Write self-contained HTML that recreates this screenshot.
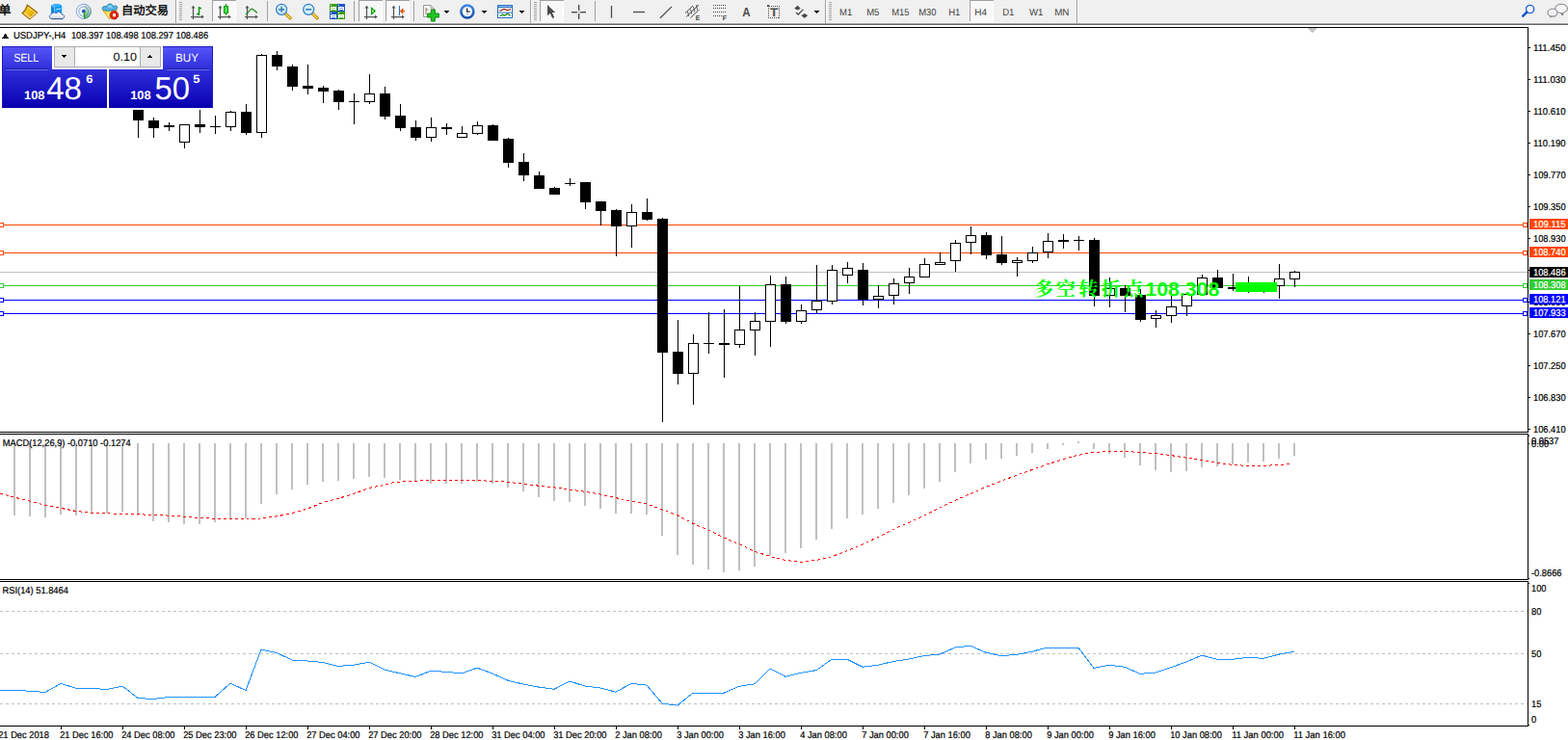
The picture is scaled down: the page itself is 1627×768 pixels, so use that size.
<!DOCTYPE html>
<html><head><meta charset="utf-8"><title>USDJPY H4</title>
<style>html,body{margin:0;padding:0;background:#fff;overflow:hidden}svg{display:block}text{font-family:"Liberation Sans",sans-serif;white-space:pre}</style>
</head><body>
<svg width="1627" height="768" viewBox="0 0 1627 768" font-family="Liberation Sans, sans-serif" shape-rendering="crispEdges" text-rendering="geometricPrecision"><rect x="0" y="0" width="1627" height="768" fill="#fff"/>
<rect x="0" y="28" width="1586" height="1" fill="#000"/>
<rect x="1585" y="28" width="1" height="726" fill="#000"/>
<rect x="0" y="448" width="1586" height="1" fill="#000"/>
<rect x="0" y="450" width="1586" height="1" fill="#000"/>
<rect x="0" y="601" width="1586" height="1" fill="#000"/>
<rect x="0" y="603" width="1586" height="1" fill="#000"/>
<rect x="0" y="753" width="1586" height="1" fill="#000"/>
<rect x="1585" y="449" width="1" height="1" fill="#fff"/>
<rect x="1585" y="602" width="1" height="1" fill="#fff"/>
<path d="M1356.6 29H1367L1361.8 34.3Z" fill="#c0c0c0" shape-rendering="auto"/>
<rect x="1586" y="49" width="2" height="1" fill="#000"/>
<text x="1591" y="53" font-size="10" fill="#000" textLength="33.62" lengthAdjust="spacingAndGlyphs" stroke="#000" stroke-width="0.22">111.450</text>
<rect x="1586" y="82" width="2" height="1" fill="#000"/>
<text x="1591" y="86" font-size="10" fill="#000" textLength="33.62" lengthAdjust="spacingAndGlyphs" stroke="#000" stroke-width="0.22">111.030</text>
<rect x="1586" y="115" width="2" height="1" fill="#000"/>
<text x="1591" y="119" font-size="10" fill="#000" textLength="33.62" lengthAdjust="spacingAndGlyphs" stroke="#000" stroke-width="0.22">110.610</text>
<rect x="1586" y="148" width="2" height="1" fill="#000"/>
<text x="1591" y="152" font-size="10" fill="#000" textLength="33.62" lengthAdjust="spacingAndGlyphs" stroke="#000" stroke-width="0.22">110.190</text>
<rect x="1586" y="181" width="2" height="1" fill="#000"/>
<text x="1591" y="185" font-size="10" fill="#000" textLength="33.62" lengthAdjust="spacingAndGlyphs" stroke="#000" stroke-width="0.22">109.770</text>
<rect x="1586" y="214" width="2" height="1" fill="#000"/>
<text x="1591" y="218" font-size="10" fill="#000" textLength="33.62" lengthAdjust="spacingAndGlyphs" stroke="#000" stroke-width="0.22">109.350</text>
<rect x="1586" y="247" width="2" height="1" fill="#000"/>
<text x="1591" y="251" font-size="10" fill="#000" textLength="33.62" lengthAdjust="spacingAndGlyphs" stroke="#000" stroke-width="0.22">108.930</text>
<rect x="1586" y="280" width="2" height="1" fill="#000"/>
<text x="1591" y="284" font-size="10" fill="#000" textLength="33.62" lengthAdjust="spacingAndGlyphs" stroke="#000" stroke-width="0.22">108.510</text>
<rect x="1586" y="313" width="2" height="1" fill="#000"/>
<text x="1591" y="317" font-size="10" fill="#000" textLength="33.62" lengthAdjust="spacingAndGlyphs" stroke="#000" stroke-width="0.22">108.090</text>
<rect x="1586" y="346" width="2" height="1" fill="#000"/>
<text x="1591" y="350" font-size="10" fill="#000" textLength="33.62" lengthAdjust="spacingAndGlyphs" stroke="#000" stroke-width="0.22">107.670</text>
<rect x="1586" y="379" width="2" height="1" fill="#000"/>
<text x="1591" y="383" font-size="10" fill="#000" textLength="33.62" lengthAdjust="spacingAndGlyphs" stroke="#000" stroke-width="0.22">107.250</text>
<rect x="1586" y="412" width="2" height="1" fill="#000"/>
<text x="1591" y="416" font-size="10" fill="#000" textLength="33.62" lengthAdjust="spacingAndGlyphs" stroke="#000" stroke-width="0.22">106.830</text>
<rect x="1586" y="445" width="2" height="1" fill="#000"/>
<text x="1591" y="449" font-size="10" fill="#000" textLength="33.62" lengthAdjust="spacingAndGlyphs" stroke="#000" stroke-width="0.22">106.410</text>
<rect x="0" y="282" width="1585" height="1" fill="#c0c0c0"/>
<rect x="0" y="233" width="1585" height="1" fill="#ff4500"/>
<rect x="-1" y="231" width="5" height="5" fill="#ff4500"/>
<rect x="0" y="232" width="3" height="3" fill="#fff"/>
<rect x="1580" y="231" width="5" height="5" fill="#ff4500"/>
<rect x="1581" y="232" width="3" height="3" fill="#fff"/>
<rect x="0" y="262" width="1585" height="1" fill="#ff4500"/>
<rect x="-1" y="260" width="5" height="5" fill="#ff4500"/>
<rect x="0" y="261" width="3" height="3" fill="#fff"/>
<rect x="1580" y="260" width="5" height="5" fill="#ff4500"/>
<rect x="1581" y="261" width="3" height="3" fill="#fff"/>
<rect x="0" y="296" width="1585" height="1" fill="#32cd32"/>
<rect x="-1" y="294" width="5" height="5" fill="#32cd32"/>
<rect x="0" y="295" width="3" height="3" fill="#fff"/>
<rect x="1580" y="294" width="5" height="5" fill="#32cd32"/>
<rect x="1581" y="295" width="3" height="3" fill="#fff"/>
<rect x="0" y="311" width="1585" height="1" fill="#0000ff"/>
<rect x="-1" y="309" width="5" height="5" fill="#0000ff"/>
<rect x="0" y="310" width="3" height="3" fill="#fff"/>
<rect x="1580" y="309" width="5" height="5" fill="#0000ff"/>
<rect x="1581" y="310" width="3" height="3" fill="#fff"/>
<rect x="0" y="325" width="1585" height="1" fill="#0000ff"/>
<rect x="-1" y="323" width="5" height="5" fill="#0000ff"/>
<rect x="0" y="324" width="3" height="3" fill="#fff"/>
<rect x="1580" y="323" width="5" height="5" fill="#0000ff"/>
<rect x="1581" y="324" width="3" height="3" fill="#fff"/>
<rect x="1587" y="277" width="40" height="11" fill="#000"/>
<text x="1591" y="286" font-size="10" fill="#fff" textLength="33.62" lengthAdjust="spacingAndGlyphs" stroke="#fff" stroke-width="0.22">108.486</text>
<rect x="1587" y="227" width="40" height="11" fill="#ff4500"/>
<text x="1591" y="236" font-size="10" fill="#fff" textLength="33.62" lengthAdjust="spacingAndGlyphs" stroke="#fff" stroke-width="0.22">109.115</text>
<rect x="1587" y="256" width="40" height="11" fill="#ff4500"/>
<text x="1591" y="265" font-size="10" fill="#fff" textLength="33.62" lengthAdjust="spacingAndGlyphs" stroke="#fff" stroke-width="0.22">108.740</text>
<rect x="1587" y="290" width="40" height="11" fill="#32cd32"/>
<text x="1591" y="299" font-size="10" fill="#fff" textLength="33.62" lengthAdjust="spacingAndGlyphs" stroke="#fff" stroke-width="0.22">108.308</text>
<rect x="1587" y="305" width="40" height="11" fill="#0000ff"/>
<text x="1591" y="314" font-size="10" fill="#fff" textLength="33.62" lengthAdjust="spacingAndGlyphs" stroke="#fff" stroke-width="0.22">108.121</text>
<rect x="1587" y="319" width="40" height="11" fill="#0000ff"/>
<text x="1591" y="328" font-size="10" fill="#fff" textLength="33.62" lengthAdjust="spacingAndGlyphs" stroke="#fff" stroke-width="0.22">107.933</text>
<rect x="143" y="114" width="1" height="29" fill="#000"/>
<rect x="138" y="114" width="11" height="11" fill="#000"/>
<rect x="159" y="122" width="1" height="21" fill="#000"/>
<rect x="154" y="125" width="11" height="8" fill="#000"/>
<rect x="175" y="127" width="1" height="9" fill="#000"/>
<rect x="170" y="130" width="11" height="2" fill="#000"/>
<rect x="191" y="129" width="1" height="25" fill="#000"/>
<rect x="186" y="129" width="11" height="19" fill="#000"/>
<rect x="187" y="130" width="9" height="17" fill="#fff"/>
<rect x="207" y="114" width="1" height="24" fill="#000"/>
<rect x="202" y="129" width="11" height="3" fill="#000"/>
<rect x="223" y="120" width="1" height="19" fill="#000"/>
<rect x="218" y="131" width="11" height="1" fill="#000"/>
<rect x="239" y="115" width="1" height="21" fill="#000"/>
<rect x="234" y="116" width="11" height="16" fill="#000"/>
<rect x="235" y="117" width="9" height="14" fill="#fff"/>
<rect x="255" y="108" width="1" height="32" fill="#000"/>
<rect x="250" y="116" width="11" height="22" fill="#000"/>
<rect x="271" y="56" width="1" height="87" fill="#000"/>
<rect x="266" y="57" width="11" height="81" fill="#000"/>
<rect x="267" y="58" width="9" height="79" fill="#fff"/>
<rect x="287" y="53" width="1" height="20" fill="#000"/>
<rect x="282" y="57" width="11" height="12" fill="#000"/>
<rect x="303" y="67" width="1" height="27" fill="#000"/>
<rect x="298" y="69" width="11" height="21" fill="#000"/>
<rect x="319" y="67" width="1" height="31" fill="#000"/>
<rect x="314" y="89" width="11" height="3" fill="#000"/>
<rect x="335" y="89" width="1" height="18" fill="#000"/>
<rect x="330" y="91" width="11" height="4" fill="#000"/>
<rect x="351" y="93" width="1" height="21" fill="#000"/>
<rect x="346" y="94" width="11" height="12" fill="#000"/>
<rect x="367" y="97" width="1" height="32" fill="#000"/>
<rect x="362" y="105" width="11" height="1" fill="#000"/>
<rect x="383" y="77" width="1" height="31" fill="#000"/>
<rect x="378" y="97" width="11" height="9" fill="#000"/>
<rect x="379" y="98" width="9" height="7" fill="#fff"/>
<rect x="399" y="90" width="1" height="34" fill="#000"/>
<rect x="394" y="97" width="11" height="24" fill="#000"/>
<rect x="415" y="108" width="1" height="28" fill="#000"/>
<rect x="410" y="120" width="11" height="13" fill="#000"/>
<rect x="431" y="125" width="1" height="21" fill="#000"/>
<rect x="426" y="132" width="11" height="11" fill="#000"/>
<rect x="447" y="122" width="1" height="25" fill="#000"/>
<rect x="442" y="132" width="11" height="11" fill="#000"/>
<rect x="443" y="133" width="9" height="9" fill="#fff"/>
<rect x="463" y="128" width="1" height="12" fill="#000"/>
<rect x="458" y="132" width="11" height="2" fill="#000"/>
<rect x="479" y="131" width="1" height="12" fill="#000"/>
<rect x="474" y="138" width="11" height="5" fill="#000"/>
<rect x="475" y="139" width="9" height="3" fill="#fff"/>
<rect x="495" y="126" width="1" height="14" fill="#000"/>
<rect x="490" y="130" width="11" height="9" fill="#000"/>
<rect x="491" y="131" width="9" height="7" fill="#fff"/>
<rect x="511" y="129" width="1" height="17" fill="#000"/>
<rect x="506" y="130" width="11" height="16" fill="#000"/>
<rect x="527" y="143" width="1" height="31" fill="#000"/>
<rect x="522" y="144" width="11" height="25" fill="#000"/>
<rect x="543" y="159" width="1" height="29" fill="#000"/>
<rect x="538" y="168" width="11" height="14" fill="#000"/>
<rect x="559" y="178" width="1" height="18" fill="#000"/>
<rect x="554" y="182" width="11" height="14" fill="#000"/>
<rect x="575" y="194" width="1" height="8" fill="#000"/>
<rect x="570" y="195" width="11" height="7" fill="#000"/>
<rect x="591" y="185" width="1" height="8" fill="#000"/>
<rect x="586" y="190" width="11" height="1" fill="#000"/>
<rect x="607" y="189" width="1" height="28" fill="#000"/>
<rect x="602" y="189" width="11" height="21" fill="#000"/>
<rect x="623" y="209" width="1" height="25" fill="#000"/>
<rect x="618" y="209" width="11" height="10" fill="#000"/>
<rect x="639" y="217" width="1" height="49" fill="#000"/>
<rect x="634" y="218" width="11" height="17" fill="#000"/>
<rect x="655" y="212" width="1" height="45" fill="#000"/>
<rect x="650" y="220" width="11" height="15" fill="#000"/>
<rect x="651" y="221" width="9" height="13" fill="#fff"/>
<rect x="671" y="206" width="1" height="23" fill="#000"/>
<rect x="666" y="220" width="11" height="8" fill="#000"/>
<rect x="687" y="226" width="1" height="212" fill="#000"/>
<rect x="682" y="227" width="11" height="139" fill="#000"/>
<rect x="703" y="332" width="1" height="67" fill="#000"/>
<rect x="698" y="365" width="11" height="23" fill="#000"/>
<rect x="719" y="347" width="1" height="73" fill="#000"/>
<rect x="714" y="356" width="11" height="32" fill="#000"/>
<rect x="715" y="357" width="9" height="30" fill="#fff"/>
<rect x="735" y="324" width="1" height="43" fill="#000"/>
<rect x="730" y="356" width="11" height="1" fill="#000"/>
<rect x="751" y="321" width="1" height="71" fill="#000"/>
<rect x="746" y="356" width="11" height="2" fill="#000"/>
<rect x="767" y="297" width="1" height="64" fill="#000"/>
<rect x="762" y="342" width="11" height="16" fill="#000"/>
<rect x="763" y="343" width="9" height="14" fill="#fff"/>
<rect x="783" y="324" width="1" height="45" fill="#000"/>
<rect x="778" y="333" width="11" height="10" fill="#000"/>
<rect x="779" y="334" width="9" height="8" fill="#fff"/>
<rect x="799" y="286" width="1" height="74" fill="#000"/>
<rect x="794" y="295" width="11" height="39" fill="#000"/>
<rect x="795" y="296" width="9" height="37" fill="#fff"/>
<rect x="815" y="287" width="1" height="49" fill="#000"/>
<rect x="810" y="295" width="11" height="39" fill="#000"/>
<rect x="831" y="316" width="1" height="20" fill="#000"/>
<rect x="826" y="322" width="11" height="12" fill="#000"/>
<rect x="827" y="323" width="9" height="10" fill="#fff"/>
<rect x="847" y="275" width="1" height="50" fill="#000"/>
<rect x="842" y="312" width="11" height="10" fill="#000"/>
<rect x="843" y="313" width="9" height="8" fill="#fff"/>
<rect x="863" y="275" width="1" height="41" fill="#000"/>
<rect x="858" y="280" width="11" height="33" fill="#000"/>
<rect x="859" y="281" width="9" height="31" fill="#fff"/>
<rect x="879" y="272" width="1" height="22" fill="#000"/>
<rect x="874" y="278" width="11" height="8" fill="#000"/>
<rect x="875" y="279" width="9" height="6" fill="#fff"/>
<rect x="895" y="273" width="1" height="44" fill="#000"/>
<rect x="890" y="280" width="11" height="31" fill="#000"/>
<rect x="911" y="296" width="1" height="24" fill="#000"/>
<rect x="906" y="307" width="11" height="4" fill="#000"/>
<rect x="907" y="308" width="9" height="2" fill="#fff"/>
<rect x="927" y="289" width="1" height="27" fill="#000"/>
<rect x="922" y="294" width="11" height="13" fill="#000"/>
<rect x="923" y="295" width="9" height="11" fill="#fff"/>
<rect x="943" y="278" width="1" height="27" fill="#000"/>
<rect x="938" y="287" width="11" height="7" fill="#000"/>
<rect x="939" y="288" width="9" height="5" fill="#fff"/>
<rect x="959" y="268" width="1" height="20" fill="#000"/>
<rect x="954" y="274" width="11" height="14" fill="#000"/>
<rect x="955" y="275" width="9" height="12" fill="#fff"/>
<rect x="975" y="262" width="1" height="13" fill="#000"/>
<rect x="970" y="272" width="11" height="3" fill="#000"/>
<rect x="971" y="273" width="9" height="1" fill="#fff"/>
<rect x="991" y="249" width="1" height="33" fill="#000"/>
<rect x="986" y="252" width="11" height="19" fill="#000"/>
<rect x="987" y="253" width="9" height="17" fill="#fff"/>
<rect x="1007" y="235" width="1" height="29" fill="#000"/>
<rect x="1002" y="244" width="11" height="8" fill="#000"/>
<rect x="1003" y="245" width="9" height="6" fill="#fff"/>
<rect x="1023" y="241" width="1" height="28" fill="#000"/>
<rect x="1018" y="244" width="11" height="21" fill="#000"/>
<rect x="1039" y="245" width="1" height="30" fill="#000"/>
<rect x="1034" y="264" width="11" height="9" fill="#000"/>
<rect x="1055" y="267" width="1" height="20" fill="#000"/>
<rect x="1050" y="270" width="11" height="3" fill="#000"/>
<rect x="1051" y="271" width="9" height="1" fill="#fff"/>
<rect x="1071" y="256" width="1" height="17" fill="#000"/>
<rect x="1066" y="262" width="11" height="9" fill="#000"/>
<rect x="1067" y="263" width="9" height="7" fill="#fff"/>
<rect x="1087" y="242" width="1" height="26" fill="#000"/>
<rect x="1082" y="250" width="11" height="12" fill="#000"/>
<rect x="1083" y="251" width="9" height="10" fill="#fff"/>
<rect x="1103" y="243" width="1" height="15" fill="#000"/>
<rect x="1098" y="249" width="11" height="2" fill="#000"/>
<rect x="1119" y="245" width="1" height="15" fill="#000"/>
<rect x="1114" y="249" width="11" height="1" fill="#000"/>
<rect x="1135" y="247" width="1" height="71" fill="#000"/>
<rect x="1130" y="249" width="11" height="58" fill="#000"/>
<rect x="1151" y="288" width="1" height="31" fill="#000"/>
<rect x="1146" y="299" width="11" height="8" fill="#000"/>
<rect x="1147" y="300" width="9" height="6" fill="#fff"/>
<rect x="1167" y="296" width="1" height="28" fill="#000"/>
<rect x="1162" y="299" width="11" height="8" fill="#000"/>
<rect x="1183" y="300" width="1" height="34" fill="#000"/>
<rect x="1178" y="306" width="11" height="26" fill="#000"/>
<rect x="1199" y="322" width="1" height="18" fill="#000"/>
<rect x="1194" y="327" width="11" height="4" fill="#000"/>
<rect x="1195" y="328" width="9" height="2" fill="#fff"/>
<rect x="1215" y="303" width="1" height="32" fill="#000"/>
<rect x="1210" y="318" width="11" height="10" fill="#000"/>
<rect x="1211" y="319" width="9" height="8" fill="#fff"/>
<rect x="1231" y="305" width="1" height="23" fill="#000"/>
<rect x="1226" y="305" width="11" height="13" fill="#000"/>
<rect x="1227" y="306" width="9" height="11" fill="#fff"/>
<rect x="1247" y="285" width="1" height="21" fill="#000"/>
<rect x="1242" y="288" width="11" height="18" fill="#000"/>
<rect x="1243" y="289" width="9" height="16" fill="#fff"/>
<rect x="1263" y="280" width="1" height="19" fill="#000"/>
<rect x="1258" y="288" width="11" height="11" fill="#000"/>
<rect x="1279" y="284" width="1" height="18" fill="#000"/>
<rect x="1274" y="298" width="11" height="2" fill="#000"/>
<rect x="1295" y="287" width="1" height="17" fill="#000"/>
<rect x="1290" y="296" width="11" height="3" fill="#000"/>
<rect x="1311" y="293" width="1" height="11" fill="#000"/>
<rect x="1306" y="297" width="11" height="2" fill="#000"/>
<rect x="1327" y="274" width="1" height="36" fill="#000"/>
<rect x="1322" y="289" width="11" height="8" fill="#000"/>
<rect x="1323" y="290" width="9" height="6" fill="#fff"/>
<rect x="1343" y="281" width="1" height="17" fill="#000"/>
<rect x="1338" y="282" width="11" height="8" fill="#000"/>
<rect x="1339" y="283" width="9" height="6" fill="#fff"/>
<rect x="1282" y="293" width="43" height="10" fill="#00ff00"/>
<text x="1072.94 1095.67 1119.27 1142.66 1165.94" y="307.1" font-size="20.3" font-weight="bold" fill="#00ff00" style="font-family:'Liberation Serif','Noto Serif CJK SC',serif">多空转折点</text>
<text x="1188.3" y="306.5" font-size="20" fill="#00ff00" textLength="77" lengthAdjust="spacingAndGlyphs" font-weight="bold">108.308</text>
<rect x="14" y="460" width="2" height="75" fill="#c0c0c0"/>
<rect x="30" y="460" width="2" height="76" fill="#c0c0c0"/>
<rect x="46" y="460" width="2" height="77" fill="#c0c0c0"/>
<rect x="62" y="460" width="2" height="74" fill="#c0c0c0"/>
<rect x="78" y="460" width="2" height="75" fill="#c0c0c0"/>
<rect x="94" y="460" width="2" height="73" fill="#c0c0c0"/>
<rect x="110" y="460" width="2" height="73" fill="#c0c0c0"/>
<rect x="126" y="460" width="2" height="71" fill="#c0c0c0"/>
<rect x="142" y="460" width="2" height="75" fill="#c0c0c0"/>
<rect x="158" y="460" width="2" height="81" fill="#c0c0c0"/>
<rect x="174" y="460" width="2" height="82" fill="#c0c0c0"/>
<rect x="190" y="460" width="2" height="84" fill="#c0c0c0"/>
<rect x="206" y="460" width="2" height="84" fill="#c0c0c0"/>
<rect x="222" y="460" width="2" height="82" fill="#c0c0c0"/>
<rect x="238" y="460" width="2" height="78" fill="#c0c0c0"/>
<rect x="254" y="460" width="2" height="78" fill="#c0c0c0"/>
<rect x="270" y="460" width="2" height="63" fill="#c0c0c0"/>
<rect x="286" y="460" width="2" height="53" fill="#c0c0c0"/>
<rect x="302" y="460" width="2" height="48" fill="#c0c0c0"/>
<rect x="318" y="460" width="2" height="43" fill="#c0c0c0"/>
<rect x="334" y="460" width="2" height="40" fill="#c0c0c0"/>
<rect x="350" y="460" width="2" height="39" fill="#c0c0c0"/>
<rect x="366" y="460" width="2" height="37" fill="#c0c0c0"/>
<rect x="382" y="460" width="2" height="35" fill="#c0c0c0"/>
<rect x="398" y="460" width="2" height="36" fill="#c0c0c0"/>
<rect x="414" y="460" width="2" height="38" fill="#c0c0c0"/>
<rect x="430" y="460" width="2" height="40" fill="#c0c0c0"/>
<rect x="446" y="460" width="2" height="42" fill="#c0c0c0"/>
<rect x="462" y="460" width="2" height="42" fill="#c0c0c0"/>
<rect x="478" y="460" width="2" height="42" fill="#c0c0c0"/>
<rect x="494" y="460" width="2" height="40" fill="#c0c0c0"/>
<rect x="510" y="460" width="2" height="42" fill="#c0c0c0"/>
<rect x="526" y="460" width="2" height="46" fill="#c0c0c0"/>
<rect x="542" y="460" width="2" height="50" fill="#c0c0c0"/>
<rect x="558" y="460" width="2" height="56" fill="#c0c0c0"/>
<rect x="574" y="460" width="2" height="60" fill="#c0c0c0"/>
<rect x="590" y="460" width="2" height="61" fill="#c0c0c0"/>
<rect x="606" y="460" width="2" height="65" fill="#c0c0c0"/>
<rect x="622" y="460" width="2" height="68" fill="#c0c0c0"/>
<rect x="638" y="460" width="2" height="73" fill="#c0c0c0"/>
<rect x="654" y="460" width="2" height="73" fill="#c0c0c0"/>
<rect x="670" y="460" width="2" height="74" fill="#c0c0c0"/>
<rect x="686" y="460" width="2" height="96" fill="#c0c0c0"/>
<rect x="702" y="460" width="2" height="116" fill="#c0c0c0"/>
<rect x="718" y="460" width="2" height="126" fill="#c0c0c0"/>
<rect x="734" y="460" width="2" height="131" fill="#c0c0c0"/>
<rect x="750" y="460" width="2" height="134" fill="#c0c0c0"/>
<rect x="766" y="460" width="2" height="132" fill="#c0c0c0"/>
<rect x="782" y="460" width="2" height="128" fill="#c0c0c0"/>
<rect x="798" y="460" width="2" height="117" fill="#c0c0c0"/>
<rect x="814" y="460" width="2" height="114" fill="#c0c0c0"/>
<rect x="830" y="460" width="2" height="109" fill="#c0c0c0"/>
<rect x="846" y="460" width="2" height="100" fill="#c0c0c0"/>
<rect x="862" y="460" width="2" height="89" fill="#c0c0c0"/>
<rect x="878" y="460" width="2" height="78" fill="#c0c0c0"/>
<rect x="894" y="460" width="2" height="74" fill="#c0c0c0"/>
<rect x="910" y="460" width="2" height="68" fill="#c0c0c0"/>
<rect x="926" y="460" width="2" height="62" fill="#c0c0c0"/>
<rect x="942" y="460" width="2" height="54" fill="#c0c0c0"/>
<rect x="958" y="460" width="2" height="47" fill="#c0c0c0"/>
<rect x="974" y="460" width="2" height="40" fill="#c0c0c0"/>
<rect x="990" y="460" width="2" height="30" fill="#c0c0c0"/>
<rect x="1006" y="460" width="2" height="21" fill="#c0c0c0"/>
<rect x="1022" y="460" width="2" height="17" fill="#c0c0c0"/>
<rect x="1038" y="460" width="2" height="16" fill="#c0c0c0"/>
<rect x="1054" y="460" width="2" height="13" fill="#c0c0c0"/>
<rect x="1070" y="460" width="2" height="10" fill="#c0c0c0"/>
<rect x="1086" y="460" width="2" height="6" fill="#c0c0c0"/>
<rect x="1102" y="460" width="2" height="2" fill="#c0c0c0"/>
<rect x="1118" y="458" width="2" height="2" fill="#c0c0c0"/>
<rect x="1134" y="460" width="2" height="6" fill="#c0c0c0"/>
<rect x="1150" y="460" width="2" height="11" fill="#c0c0c0"/>
<rect x="1166" y="460" width="2" height="15" fill="#c0c0c0"/>
<rect x="1182" y="460" width="2" height="23" fill="#c0c0c0"/>
<rect x="1198" y="460" width="2" height="28" fill="#c0c0c0"/>
<rect x="1214" y="460" width="2" height="30" fill="#c0c0c0"/>
<rect x="1230" y="460" width="2" height="29" fill="#c0c0c0"/>
<rect x="1246" y="460" width="2" height="25" fill="#c0c0c0"/>
<rect x="1262" y="460" width="2" height="24" fill="#c0c0c0"/>
<rect x="1278" y="460" width="2" height="22" fill="#c0c0c0"/>
<rect x="1294" y="460" width="2" height="20" fill="#c0c0c0"/>
<rect x="1310" y="460" width="2" height="19" fill="#c0c0c0"/>
<rect x="1326" y="460" width="2" height="16" fill="#c0c0c0"/>
<rect x="1342" y="460" width="2" height="13" fill="#c0c0c0"/>
<polyline points="0,512.0 15,516.2 31,519.9 47,524.3 63,527.3 79,530.5 95,532.2 111,532.9 127,533.4 143,533.9 159,534.2 175,535.1 191,536.1 207,537.4 223,538.3 239,538.3 255,539.1 271,537.9 287,535.9 303,532.7 319,528.0 335,521.6 351,517.4 367,512.5 383,506.4 399,503.4 407,501.0 415,500.0 431,499.3 447,498.3 463,498.3 479,498.3 495,498.3 511,499.5 527,500.2 543,502.2 559,504.2 575,505.9 591,508.1 607,510.3 623,513.0 639,516.7 655,520.1 671,522.9 687,529.0 703,534.7 719,543.3 735,550.1 751,558.0 767,564.6 783,572.3 799,577.4 815,581.4 831,583.3 847,581.4 863,577.7 879,571.8 895,564.9 911,557.5 927,549.4 943,542.3 959,535.1 975,527.0 991,519.4 1007,512.3 1023,505.4 1039,499.3 1055,493.1 1071,487.5 1087,481.8 1103,476.6 1119,472.3 1135,469.4 1151,468.7 1167,468.4 1183,469.5 1199,470.4 1215,472.6 1231,475.2 1247,477.2 1263,480.2 1279,482.4 1295,483.5 1311,483.5 1327,482.4 1340,481.5" fill="none" stroke="#ff0000" stroke-width="1" stroke-dasharray="3 3" shape-rendering="crispEdges"/>
<text x="2.8" y="463" font-size="10" fill="#000" textLength="132.86" lengthAdjust="spacingAndGlyphs" stroke="#000" stroke-width="0.22">MACD(12,26,9) -0.0710 -0.1274</text>
<rect x="1586" y="452" width="1" height="1" fill="#000"/>
<rect x="1586" y="460" width="1" height="1" fill="#000"/>
<text x="1589" y="461" font-size="10" fill="#000" textLength="28.44" lengthAdjust="spacingAndGlyphs" stroke="#000" stroke-width="0.22">0.0537</text>
<text x="1589" y="464" font-size="10" fill="#000" textLength="18.1" lengthAdjust="spacingAndGlyphs" stroke="#000" stroke-width="0.22">0.00</text>
<rect x="1586" y="600" width="1" height="1" fill="#000"/>
<rect x="1586" y="605" width="1" height="1" fill="#000"/>
<rect x="1586" y="752" width="1" height="1" fill="#000"/>
<text x="1589" y="598" font-size="10" fill="#000" textLength="31.54" lengthAdjust="spacingAndGlyphs" stroke="#000" stroke-width="0.22">-0.8666</text>
<path d="M0 634.5H1585" stroke="#c0c0c0" stroke-width="1" stroke-dasharray="3 3" shape-rendering="crispEdges"/>
<path d="M0 678.5H1585" stroke="#c0c0c0" stroke-width="1" stroke-dasharray="3 3" shape-rendering="crispEdges"/>
<path d="M0 730.5H1585" stroke="#c0c0c0" stroke-width="1" stroke-dasharray="3 3" shape-rendering="crispEdges"/>
<polyline points="0,716.5 15,716.5 31,717.2 47,718.5 63,709.4 79,714.3 95,714.3 111,715.5 127,712.1 143,724.4 159,725.6 175,723.4 191,723.4 207,723.4 223,723.4 239,709.1 255,716.5 271,674.2 287,677.4 303,685.0 319,686.0 335,687.5 351,691.4 367,690.2 383,687.2 399,695.1 415,698.8 431,702.5 447,696.3 463,697.3 479,699.0 495,693.1 511,699.0 527,706.2 543,710.1 559,713.1 575,715.3 591,706.9 607,712.1 623,714.0 639,718.2 655,709.4 671,711.1 687,730.0 703,732.2 719,719.2 735,719.2 751,719.2 767,712.3 783,709.8 799,694.1 815,702.2 831,698.3 847,695.6 863,684.3 879,684.3 895,692.2 911,690.2 927,686.5 943,684.0 959,680.6 975,679.1 991,672.0 1007,670.3 1023,677.2 1039,680.6 1055,679.4 1071,676.2 1087,672.0 1103,672.0 1119,672.0 1135,693.4 1151,690.3 1167,692.2 1183,699.3 1199,698.1 1215,692.7 1231,687.0 1247,680.1 1263,684.3 1279,684.3 1295,682.3 1311,683.3 1327,679.1 1343,676.2" fill="none" stroke="#1e90ff" stroke-width="1" shape-rendering="crispEdges"/>
<text x="2.6" y="616" font-size="10" fill="#000" textLength="68.24" lengthAdjust="spacingAndGlyphs" stroke="#000" stroke-width="0.22">RSI(14) 51.8464</text>
<text x="1589" y="614" font-size="10" fill="#000" textLength="15.52" lengthAdjust="spacingAndGlyphs" stroke="#000" stroke-width="0.22">100</text>
<text x="1589" y="638" font-size="10" fill="#000" textLength="10.34" lengthAdjust="spacingAndGlyphs" stroke="#000" stroke-width="0.22">80</text>
<text x="1589" y="682" font-size="10" fill="#000" textLength="10.34" lengthAdjust="spacingAndGlyphs" stroke="#000" stroke-width="0.22">50</text>
<text x="1589" y="734" font-size="10" fill="#000" textLength="10.34" lengthAdjust="spacingAndGlyphs" stroke="#000" stroke-width="0.22">15</text>
<text x="1589" y="750" font-size="10" fill="#000" textLength="5.17" lengthAdjust="spacingAndGlyphs" stroke="#000" stroke-width="0.22">0</text>
<rect x="-1" y="754" width="1" height="3" fill="#000"/>
<text x="-1.8" y="766" font-size="10" fill="#000" textLength="52.74" lengthAdjust="spacingAndGlyphs" stroke="#000" stroke-width="0.22">21 Dec 2018</text>
<rect x="63" y="754" width="1" height="3" fill="#000"/>
<text x="62.2" y="766" font-size="10" fill="#000" textLength="55.32" lengthAdjust="spacingAndGlyphs" stroke="#000" stroke-width="0.22">21 Dec 16:00</text>
<rect x="127" y="754" width="1" height="3" fill="#000"/>
<text x="126.2" y="766" font-size="10" fill="#000" textLength="55.32" lengthAdjust="spacingAndGlyphs" stroke="#000" stroke-width="0.22">24 Dec 08:00</text>
<rect x="191" y="754" width="1" height="3" fill="#000"/>
<text x="190.2" y="766" font-size="10" fill="#000" textLength="55.32" lengthAdjust="spacingAndGlyphs" stroke="#000" stroke-width="0.22">25 Dec 23:00</text>
<rect x="255" y="754" width="1" height="3" fill="#000"/>
<text x="254.2" y="766" font-size="10" fill="#000" textLength="55.32" lengthAdjust="spacingAndGlyphs" stroke="#000" stroke-width="0.22">26 Dec 12:00</text>
<rect x="319" y="754" width="1" height="3" fill="#000"/>
<text x="318.2" y="766" font-size="10" fill="#000" textLength="55.32" lengthAdjust="spacingAndGlyphs" stroke="#000" stroke-width="0.22">27 Dec 04:00</text>
<rect x="383" y="754" width="1" height="3" fill="#000"/>
<text x="382.2" y="766" font-size="10" fill="#000" textLength="55.32" lengthAdjust="spacingAndGlyphs" stroke="#000" stroke-width="0.22">27 Dec 20:00</text>
<rect x="447" y="754" width="1" height="3" fill="#000"/>
<text x="446.2" y="766" font-size="10" fill="#000" textLength="55.32" lengthAdjust="spacingAndGlyphs" stroke="#000" stroke-width="0.22">28 Dec 12:00</text>
<rect x="511" y="754" width="1" height="3" fill="#000"/>
<text x="510.2" y="766" font-size="10" fill="#000" textLength="55.32" lengthAdjust="spacingAndGlyphs" stroke="#000" stroke-width="0.22">31 Dec 04:00</text>
<rect x="575" y="754" width="1" height="3" fill="#000"/>
<text x="574.2" y="766" font-size="10" fill="#000" textLength="55.32" lengthAdjust="spacingAndGlyphs" stroke="#000" stroke-width="0.22">31 Dec 20:00</text>
<rect x="639" y="754" width="1" height="3" fill="#000"/>
<text x="638.2" y="766" font-size="10" fill="#000" textLength="48.61" lengthAdjust="spacingAndGlyphs" stroke="#000" stroke-width="0.22">2 Jan 08:00</text>
<rect x="703" y="754" width="1" height="3" fill="#000"/>
<text x="702.2" y="766" font-size="10" fill="#000" textLength="48.61" lengthAdjust="spacingAndGlyphs" stroke="#000" stroke-width="0.22">3 Jan 00:00</text>
<rect x="767" y="754" width="1" height="3" fill="#000"/>
<text x="766.2" y="766" font-size="10" fill="#000" textLength="48.61" lengthAdjust="spacingAndGlyphs" stroke="#000" stroke-width="0.22">3 Jan 16:00</text>
<rect x="831" y="754" width="1" height="3" fill="#000"/>
<text x="830.2" y="766" font-size="10" fill="#000" textLength="48.61" lengthAdjust="spacingAndGlyphs" stroke="#000" stroke-width="0.22">4 Jan 08:00</text>
<rect x="895" y="754" width="1" height="3" fill="#000"/>
<text x="894.2" y="766" font-size="10" fill="#000" textLength="48.61" lengthAdjust="spacingAndGlyphs" stroke="#000" stroke-width="0.22">7 Jan 00:00</text>
<rect x="959" y="754" width="1" height="3" fill="#000"/>
<text x="958.2" y="766" font-size="10" fill="#000" textLength="48.61" lengthAdjust="spacingAndGlyphs" stroke="#000" stroke-width="0.22">7 Jan 16:00</text>
<rect x="1023" y="754" width="1" height="3" fill="#000"/>
<text x="1022.2" y="766" font-size="10" fill="#000" textLength="48.61" lengthAdjust="spacingAndGlyphs" stroke="#000" stroke-width="0.22">8 Jan 08:00</text>
<rect x="1087" y="754" width="1" height="3" fill="#000"/>
<text x="1086.2" y="766" font-size="10" fill="#000" textLength="48.61" lengthAdjust="spacingAndGlyphs" stroke="#000" stroke-width="0.22">9 Jan 00:00</text>
<rect x="1151" y="754" width="1" height="3" fill="#000"/>
<text x="1150.2" y="766" font-size="10" fill="#000" textLength="48.61" lengthAdjust="spacingAndGlyphs" stroke="#000" stroke-width="0.22">9 Jan 16:00</text>
<rect x="1215" y="754" width="1" height="3" fill="#000"/>
<text x="1214.2" y="766" font-size="10" fill="#000" textLength="53.78" lengthAdjust="spacingAndGlyphs" stroke="#000" stroke-width="0.22">10 Jan 08:00</text>
<rect x="1279" y="754" width="1" height="3" fill="#000"/>
<text x="1278.2" y="766" font-size="10" fill="#000" textLength="53.78" lengthAdjust="spacingAndGlyphs" stroke="#000" stroke-width="0.22">11 Jan 00:00</text>
<rect x="1343" y="754" width="1" height="3" fill="#000"/>
<text x="1342.2" y="766" font-size="10" fill="#000" textLength="53.78" lengthAdjust="spacingAndGlyphs" stroke="#000" stroke-width="0.22">11 Jan 16:00</text>
<path d="M2 39.5L5.5 35L9 39.5Z" fill="#000"/>
<text x="14" y="40" font-size="10" fill="#000" textLength="54.26" lengthAdjust="spacingAndGlyphs" stroke="#000" stroke-width="0.22">USDJPY-,H4</text>
<text x="73.9" y="40" font-size="10" fill="#000" textLength="142.22" lengthAdjust="spacingAndGlyphs" stroke="#000" stroke-width="0.22">108.397 108.498 108.297 108.486</text>
<defs><linearGradient id="pg" x1="0" y1="48" x2="0" y2="112" gradientUnits="userSpaceOnUse"><stop offset="0" stop-color="#5656f8"/><stop offset="0.36" stop-color="#3030dc"/><stop offset="1" stop-color="#0800b0"/></linearGradient></defs>
<rect x="54" y="48" width="115" height="24" fill="#fff"/>
<rect x="2" y="48" width="52" height="64" fill="url(#pg)"/>
<rect x="2" y="72" width="109" height="40" fill="url(#pg)"/>
<rect x="169" y="48" width="52" height="64" fill="url(#pg)"/>
<rect x="113" y="72" width="108" height="40" fill="url(#pg)"/>
<path d="M2.5 112V48.5H54" fill="none" stroke="#1a1ac0" stroke-width="1"/>
<path d="M169 48.5H220.5V112" fill="none" stroke="#1a1ac0" stroke-width="1"/>
<rect x="2" y="111" width="109" height="1" fill="#0600a4"/><rect x="113" y="111" width="108" height="1" fill="#0600a4"/>
<rect x="6" y="71" width="44" height="1" fill="#1a1aa8"/><rect x="6" y="72" width="44" height="1" fill="#6a6af0"/>
<rect x="173" y="71" width="44" height="1" fill="#1a1aa8"/><rect x="173" y="72" width="44" height="1" fill="#6a6af0"/>
<rect x="56.5" y="48.5" width="110" height="21" fill="#fff" stroke="#ababab" stroke-width="1"/>
<rect x="57" y="49" width="20" height="20" fill="#e9e9e9"/><rect x="77" y="49" width="1" height="20" fill="#ababab"/>
<rect x="146" y="49" width="20" height="20" fill="#e9e9e9"/><rect x="145" y="49" width="1" height="20" fill="#ababab"/>
<path d="M63 57H69L66 60Z" fill="#000"/>
<path d="M152 60H158L155 57Z" fill="#000"/>
<text x="117.5" y="63" font-size="12" fill="#000" textLength="24.5" lengthAdjust="spacingAndGlyphs">0.10</text>
<text x="14.2" y="63.7" font-size="12" fill="#fff" textLength="26" lengthAdjust="spacingAndGlyphs">SELL</text>
<text x="182" y="63.7" font-size="12" fill="#fff" textLength="24" lengthAdjust="spacingAndGlyphs">BUY</text>
<text x="25" y="103" font-size="12.4" fill="#fff" textLength="21.5" lengthAdjust="spacingAndGlyphs" font-weight="bold">108</text>
<text x="48.2" y="103" font-size="33" fill="#fff" textLength="36.8" lengthAdjust="spacingAndGlyphs">48</text>
<text x="89.2" y="86.2" font-size="12" fill="#fff" textLength="7.2" lengthAdjust="spacingAndGlyphs" font-weight="bold">6</text>
<text x="135.2" y="103" font-size="12.4" fill="#fff" textLength="21.5" lengthAdjust="spacingAndGlyphs" font-weight="bold">108</text>
<text x="160.5" y="103.2" font-size="33" fill="#fff" textLength="36.5" lengthAdjust="spacingAndGlyphs">50</text>
<text x="200.3" y="86.2" font-size="12" fill="#fff" textLength="7.2" lengthAdjust="spacingAndGlyphs" font-weight="bold">5</text>
<rect x="0" y="0" width="1627" height="23" fill="#f0f0f0"/>
<rect x="0" y="23" width="1627" height="1" fill="#f4f4f4"/>
<rect x="0" y="24" width="1627" height="1" fill="#a3a3a3"/>
<rect x="0" y="25" width="1627" height="1" fill="#696969"/>
<rect x="0" y="26" width="1627" height="2" fill="#fff"/>
<rect x="182" y="0" width="1" height="24" fill="#a0a0a0"/><rect x="183" y="0" width="1" height="23" fill="#fff"/>
<rect x="550" y="0" width="1" height="24" fill="#a0a0a0"/><rect x="551" y="0" width="1" height="23" fill="#fff"/>
<rect x="856" y="0" width="1" height="24" fill="#a0a0a0"/><rect x="857" y="0" width="1" height="23" fill="#fff"/>
<rect x="1117" y="0" width="1" height="24" fill="#a0a0a0"/><rect x="1118" y="0" width="1" height="23" fill="#fff"/>
<rect x="186" y="2" width="3" height="1" fill="#a6a6a6"/>
<rect x="186" y="4" width="3" height="1" fill="#a6a6a6"/>
<rect x="186" y="6" width="3" height="1" fill="#a6a6a6"/>
<rect x="186" y="8" width="3" height="1" fill="#a6a6a6"/>
<rect x="186" y="10" width="3" height="1" fill="#a6a6a6"/>
<rect x="186" y="12" width="3" height="1" fill="#a6a6a6"/>
<rect x="186" y="14" width="3" height="1" fill="#a6a6a6"/>
<rect x="186" y="16" width="3" height="1" fill="#a6a6a6"/>
<rect x="186" y="18" width="3" height="1" fill="#a6a6a6"/>
<rect x="186" y="20" width="3" height="1" fill="#a6a6a6"/>
<rect x="554" y="2" width="3" height="1" fill="#a6a6a6"/>
<rect x="554" y="4" width="3" height="1" fill="#a6a6a6"/>
<rect x="554" y="6" width="3" height="1" fill="#a6a6a6"/>
<rect x="554" y="8" width="3" height="1" fill="#a6a6a6"/>
<rect x="554" y="10" width="3" height="1" fill="#a6a6a6"/>
<rect x="554" y="12" width="3" height="1" fill="#a6a6a6"/>
<rect x="554" y="14" width="3" height="1" fill="#a6a6a6"/>
<rect x="554" y="16" width="3" height="1" fill="#a6a6a6"/>
<rect x="554" y="18" width="3" height="1" fill="#a6a6a6"/>
<rect x="554" y="20" width="3" height="1" fill="#a6a6a6"/>
<rect x="860" y="2" width="3" height="1" fill="#a6a6a6"/>
<rect x="860" y="4" width="3" height="1" fill="#a6a6a6"/>
<rect x="860" y="6" width="3" height="1" fill="#a6a6a6"/>
<rect x="860" y="8" width="3" height="1" fill="#a6a6a6"/>
<rect x="860" y="10" width="3" height="1" fill="#a6a6a6"/>
<rect x="860" y="12" width="3" height="1" fill="#a6a6a6"/>
<rect x="860" y="14" width="3" height="1" fill="#a6a6a6"/>
<rect x="860" y="16" width="3" height="1" fill="#a6a6a6"/>
<rect x="860" y="18" width="3" height="1" fill="#a6a6a6"/>
<rect x="860" y="20" width="3" height="1" fill="#a6a6a6"/>
<rect x="277" y="1" width="1" height="21" fill="#a0a0a0"/>
<rect x="367" y="1" width="1" height="21" fill="#a0a0a0"/>
<rect x="429" y="1" width="1" height="21" fill="#a0a0a0"/>
<rect x="617" y="1" width="1" height="21" fill="#a0a0a0"/>
<rect x="220" y="0" width="25" height="23" fill="#f8f8f8"/>
<rect x="220" y="0" width="25" height="1" fill="#a0a0a0"/><rect x="220" y="0" width="1" height="22" fill="#a0a0a0"/>
<rect x="244" y="1" width="1" height="22" fill="#fff"/><rect x="220" y="22" width="25" height="1" fill="#fff"/>
<rect x="372" y="0" width="25" height="23" fill="#f8f8f8"/>
<rect x="372" y="0" width="25" height="1" fill="#a0a0a0"/><rect x="372" y="0" width="1" height="22" fill="#a0a0a0"/>
<rect x="396" y="1" width="1" height="22" fill="#fff"/><rect x="372" y="22" width="25" height="1" fill="#fff"/>
<rect x="400" y="0" width="25" height="23" fill="#f8f8f8"/>
<rect x="400" y="0" width="25" height="1" fill="#a0a0a0"/><rect x="400" y="0" width="1" height="22" fill="#a0a0a0"/>
<rect x="424" y="1" width="1" height="22" fill="#fff"/><rect x="400" y="22" width="25" height="1" fill="#fff"/>
<rect x="560" y="0" width="25" height="23" fill="#f8f8f8"/>
<rect x="560" y="0" width="25" height="1" fill="#a0a0a0"/><rect x="560" y="0" width="1" height="22" fill="#a0a0a0"/>
<rect x="584" y="1" width="1" height="22" fill="#fff"/><rect x="560" y="22" width="25" height="1" fill="#fff"/>
<rect x="1006" y="0" width="25" height="23" fill="#f8f8f8"/>
<rect x="1006" y="0" width="25" height="1" fill="#a0a0a0"/><rect x="1006" y="0" width="1" height="22" fill="#a0a0a0"/>
<rect x="1030" y="1" width="1" height="22" fill="#fff"/><rect x="1006" y="22" width="25" height="1" fill="#fff"/>
<g shape-rendering="auto"><path d="M200.5 6.5V20M198 17.5H210" stroke="#555" stroke-width="1.25" fill="none"/><path d="M198.5 8.6L200.5 5.8L202.5 8.6Z" fill="#555"/><path d="M209 15.4L211.8 17.5L209 19.6Z" fill="#555"/></g>
<path d="M206.5 7V16M206.5 8.5H209M204 14.5H206.5" stroke="#0a960a" stroke-width="1.4" fill="none" shape-rendering="auto"/>
<g shape-rendering="auto"><path d="M228.5 6.5V20M226 17.5H238" stroke="#555" stroke-width="1.25" fill="none"/><path d="M226.5 8.6L228.5 5.8L230.5 8.6Z" fill="#555"/><path d="M237 15.4L239.8 17.5L237 19.6Z" fill="#555"/></g>
<rect x="234" y="4" width="1" height="12" fill="#0a960a"/><rect x="232" y="6" width="5" height="8" fill="#0a960a"/><rect x="233" y="7" width="3" height="6" fill="#4be04b"/>
<g shape-rendering="auto"><path d="M256.5 6.5V20M254 17.5H266" stroke="#555" stroke-width="1.25" fill="none"/><path d="M254.5 8.6L256.5 5.8L258.5 8.6Z" fill="#555"/><path d="M265 15.4L267.8 17.5L265 19.6Z" fill="#555"/></g>
<path d="M255 15C258 13 259.5 9.2 261.2 9.2S264.5 12 267 13.2" stroke="#1a8c1a" stroke-width="1.2" fill="none" shape-rendering="auto"/>
<g shape-rendering="auto"><path d="M295.70000000000005 13.6L301.1 18.8" stroke="#b8860b" stroke-width="3.4" stroke-linecap="round"/><path d="M296.0 13.9L300.90000000000003 18.6" stroke="#f2d24c" stroke-width="1.6" stroke-linecap="round"/><circle cx="292.1" cy="9.8" r="5.5" fill="#d6efff" stroke="#2f7fcb" stroke-width="1.3"/><path d="M289.1 9.8H295.1M292.1 6.8V12.8" stroke="#3c86b4" stroke-width="1.7" fill="none"/></g>
<g shape-rendering="auto"><path d="M323.8 13.6L329.2 18.8" stroke="#b8860b" stroke-width="3.4" stroke-linecap="round"/><path d="M324.09999999999997 13.9L329.0 18.6" stroke="#f2d24c" stroke-width="1.6" stroke-linecap="round"/><circle cx="320.2" cy="9.8" r="5.5" fill="#d6efff" stroke="#2f7fcb" stroke-width="1.3"/><path d="M317.2 9.8H323.2" stroke="#3c86b4" stroke-width="1.7" fill="none"/></g>
<rect x="342" y="4" width="8" height="8" fill="#3c9e10"/><rect x="343" y="5" width="1" height="1" fill="#fff"/><rect x="343" y="7" width="6" height="4" fill="#fff"/><rect x="344" y="8" width="4" height="1" fill="#a9d98f"/><rect x="344" y="10" width="4" height="1" fill="#3c9e10" opacity=".8"/>
<rect x="350" y="4" width="8" height="8" fill="#1f55cc"/><rect x="351" y="5" width="1" height="1" fill="#fff"/><rect x="351" y="7" width="6" height="4" fill="#fff"/><rect x="352" y="8" width="4" height="1" fill="#8eaaf0"/><rect x="352" y="10" width="4" height="1" fill="#1f55cc" opacity=".8"/>
<rect x="342" y="12" width="8" height="8" fill="#1f55cc"/><rect x="343" y="13" width="1" height="1" fill="#fff"/><rect x="343" y="15" width="6" height="4" fill="#fff"/><rect x="344" y="16" width="4" height="1" fill="#8eaaf0"/><rect x="344" y="18" width="4" height="1" fill="#1f55cc" opacity=".8"/>
<rect x="350" y="12" width="8" height="8" fill="#3c9e10"/><rect x="351" y="13" width="1" height="1" fill="#fff"/><rect x="351" y="15" width="6" height="4" fill="#fff"/><rect x="352" y="16" width="4" height="1" fill="#a9d98f"/><rect x="352" y="18" width="4" height="1" fill="#3c9e10" opacity=".8"/>
<g shape-rendering="auto"><path d="M380.5 6.5V20M378 17.5H390" stroke="#555" stroke-width="1.25" fill="none"/><path d="M378.5 8.6L380.5 5.8L382.5 8.6Z" fill="#555"/><path d="M389 15.4L391.8 17.5L389 19.6Z" fill="#555"/></g>
<path d="M385.5 8.3V14.7L389.3 11.5Z" fill="#8fe88f" stroke="#14a014" stroke-width="1.1" shape-rendering="auto"/>
<g shape-rendering="auto"><path d="M408.5 6.5V20M406 17.5H418" stroke="#555" stroke-width="1.25" fill="none"/><path d="M406.5 8.6L408.5 5.8L410.5 8.6Z" fill="#555"/><path d="M417 15.4L419.8 17.5L417 19.6Z" fill="#555"/></g>
<rect x="414" y="6" width="1" height="10" fill="#1a6fb0"/><path d="M415.5 11.5H420M418.5 9L415.8 11.5L418.5 14" stroke="#e0500a" stroke-width="1.3" fill="none" shape-rendering="auto"/>
<g shape-rendering="auto"><path d="M439.5 5.5H447L450.5 9V17.5H439.5Z" fill="#fdfdfd" stroke="#9a9a9a" stroke-width="1"/><path d="M447 5.5V9H450.5" fill="none" stroke="#9a9a9a"/><path d="M442 8V15M442 10H444.5" stroke="#8a7a5a" stroke-width="1" fill="none"/><path d="M447.3 10H451.3V14H455.3V18H451.3V22H447.3V18H443.5V14H447.3Z" fill="#22c322" stroke="#0c8a0c" stroke-width="1"/></g>
<path d="M460.5 11H466.5L463.5 14Z" fill="#000" shape-rendering="auto"/>
<defs><linearGradient id="ck" x1="0" y1="4" x2="0" y2="20" gradientUnits="userSpaceOnUse"><stop offset="0" stop-color="#3f90ec"/><stop offset="1" stop-color="#0b469f"/></linearGradient></defs>
<g shape-rendering="auto"><circle cx="484.9" cy="12" r="6.5" fill="#fbfdff" stroke="url(#ck)" stroke-width="2.5"/><circle cx="484.9" cy="12" r="4.3" fill="none" stroke="#9aa4b4" stroke-width="0.8" stroke-dasharray="0.7 1.55"/><path d="M484.6 8.6V12.1H487.6" stroke="#222" stroke-width="1.3" fill="none"/><rect x="483.9" y="14.2" width="2" height="0.9" fill="#5aa0f0"/></g>
<path d="M499.5 11H505.5L502.5 14Z" fill="#000" shape-rendering="auto"/>
<rect x="516" y="5" width="16" height="14" fill="#2c6fc4"/><rect x="517" y="8" width="14" height="10" fill="#fff"/><rect x="517" y="12.6" width="14" height="1" fill="#2c6fc4" shape-rendering="auto"/><rect x="517" y="6" width="14" height="1" fill="#8fc0f0"/><path d="M518 11H520L522 9.5H524L525.5 10.5H527.5L530 9.3" stroke="#a01808" stroke-width="1.2" fill="none" shape-rendering="auto"/><path d="M518.5 16.2H520L521.5 15L523.5 16.3L526.5 14.2L528 15L529.5 16.5" stroke="#108a10" stroke-width="1.2" fill="none" shape-rendering="auto"/>
<path d="M538.5 11H544.5L541.5 14Z" fill="#000" shape-rendering="auto"/>
<path d="M568 5V16.2L570.8 13.8L573.2 19L575.2 18.1L572.8 13H576.2Z" fill="#4a4a4a" shape-rendering="auto"/>
<g fill="#4a4a4a"><rect x="600" y="5" width="1" height="6"/><rect x="600" y="14" width="1" height="6"/><rect x="593" y="12" width="6" height="1"/><rect x="602" y="12" width="6" height="1"/><rect x="600" y="12" width="1" height="1" fill="#888"/></g>
<g fill="#4a4a4a" opacity=".35"><rect x="601" y="5" width="1" height="6"/><rect x="601" y="14" width="1" height="6"/><rect x="593" y="13" width="6" height="1"/><rect x="602" y="13" width="6" height="1"/></g>
<path d="M634.5 6V18.7" stroke="#4a4a4a" stroke-width="1.3" shape-rendering="auto"/>
<path d="M657 12.5H669" stroke="#4a4a4a" stroke-width="1.3" shape-rendering="auto"/>
<path d="M685 18.7L697 6.9" stroke="#4a4a4a" stroke-width="1.2" shape-rendering="auto"/>
<g shape-rendering="auto" stroke="#4a4a4a" fill="none"><path d="M711 13.5L719 6M712 17.5L725 5M716.5 18.5L725.5 10" stroke-width="1"/><path d="M713.5 12L714.8 17M716.5 9.5L717.8 14.5M719.5 7L720.8 12.5M722.5 5L723.6 10.5" stroke-width="0.9"/></g>
<text x="721.75" y="21" font-size="6.84" font-weight="bold" fill="#3a3a3a" textLength="4.52" lengthAdjust="spacingAndGlyphs">E</text>
<path d="M740 5.5H754" stroke="#4a4a4a" stroke-width="1" stroke-dasharray="1 1"/>
<path d="M740 8.5H754" stroke="#4a4a4a" stroke-width="1" stroke-dasharray="1 1"/>
<path d="M740 12.5H754" stroke="#4a4a4a" stroke-width="1" stroke-dasharray="1 1"/>
<path d="M740 16.5H750" stroke="#4a4a4a" stroke-width="1" stroke-dasharray="1 1"/>
<text x="749.73" y="20.8" font-size="6.84" font-weight="bold" fill="#3a3a3a" textLength="4.33" lengthAdjust="spacingAndGlyphs">F</text>
<text x="770.31" y="17" font-size="13.1" font-weight="bold" fill="#4f4f4f" textLength="8.4" lengthAdjust="spacingAndGlyphs">A</text>
<rect x="797.5" y="6.5" width="11" height="12" fill="none" stroke="#4a4a4a" stroke-width="1" stroke-dasharray="1 1"/>
<rect x="796" y="5" width="2" height="2" fill="#4a4a4a"/>
<text x="798.95" y="16.8" font-size="12.2" font-weight="bold" fill="#4f4f4f" textLength="8.3" lengthAdjust="spacingAndGlyphs">T</text>
<g shape-rendering="auto" fill="#4a4a4a"><path d="M827.5 5.7L830.8 8.7L827.5 10.6L824.2 8.7Z"/><path d="M834.8 19L831.4 16L834.8 14L838.2 16Z"/><path d="M826 13L828.3 15L833.4 9.6" stroke="#4a4a4a" stroke-width="1.3" fill="none"/></g>
<path d="M844.5 11H850.5L847.5 14Z" fill="#000" shape-rendering="auto"/>
<text x="871" y="16" font-size="10" fill="#3c3c3c" textLength="13.2" lengthAdjust="spacingAndGlyphs">M1</text>
<text x="899.2" y="16" font-size="10" fill="#3c3c3c" textLength="13.2" lengthAdjust="spacingAndGlyphs">M5</text>
<text x="925.2" y="16" font-size="10" fill="#3c3c3c" textLength="18.2" lengthAdjust="spacingAndGlyphs">M15</text>
<text x="953.2" y="16" font-size="10" fill="#3c3c3c" textLength="18.3" lengthAdjust="spacingAndGlyphs">M30</text>
<text x="984.2" y="16" font-size="10" fill="#3c3c3c" textLength="12.2" lengthAdjust="spacingAndGlyphs">H1</text>
<text x="1011.2" y="16" font-size="10" fill="#3c3c3c" textLength="12.8" lengthAdjust="spacingAndGlyphs">H4</text>
<text x="1040.2" y="16" font-size="10" fill="#3c3c3c" textLength="12.2" lengthAdjust="spacingAndGlyphs">D1</text>
<text x="1068" y="16" font-size="10" fill="#3c3c3c" textLength="14.4" lengthAdjust="spacingAndGlyphs">W1</text>
<text x="1094.2" y="16" font-size="10" fill="#3c3c3c" textLength="15.2" lengthAdjust="spacingAndGlyphs">MN</text>
<text x="-1.5" y="15.4" font-size="13" fill="#000" stroke="#000" stroke-width="0.35" style="font-family:'Liberation Sans','Noto Sans CJK SC',sans-serif">单</text>
<text x="125.9 138.34 150.42 162.82" y="15.4" font-size="12.3" fill="#000" stroke="#000" stroke-width="0.35" style="font-family:'Liberation Sans','Noto Sans CJK SC',sans-serif">自动交易</text>
<defs><linearGradient id="gb" x1="26" y1="7" x2="34" y2="19" gradientUnits="userSpaceOnUse"><stop offset="0" stop-color="#f7d93a"/><stop offset="0.55" stop-color="#eab80e"/><stop offset="1" stop-color="#d89a06"/></linearGradient><linearGradient id="cl" x1="0" y1="12" x2="0" y2="20" gradientUnits="userSpaceOnUse"><stop offset="0" stop-color="#ffffff"/><stop offset="0.55" stop-color="#eef1f8"/><stop offset="1" stop-color="#b9c6de"/></linearGradient></defs>
<g shape-rendering="auto"><path d="M28.4 5.3L38.6 13.1L30.7 19.8L23.2 13.8Q26.6 11 28.4 5.3Z" fill="url(#gb)" stroke="#a06808" stroke-width="1.25"/><path d="M24.3 13.9L30.7 18.9L32 17.8L25.8 12.7Z" fill="#f6dc7a" opacity=".9"/><path d="M31.3 19L38 13.4" stroke="#efe6c0" stroke-width="1.1"/><path d="M31 19.9L38.7 13.4" stroke="#a9700a" stroke-width="0.7"/><path d="M29.2 7.4L36.6 13L33.4 15.6" fill="none" stroke="#fbe97a" stroke-width="0.9" opacity=".8"/></g>
<g shape-rendering="auto"><path d="M53.2 5.6L56.8 4.2H61.6L64.2 6V14H53.2Z" fill="#0e9af6"/><path d="M53.2 5.6L56.6 7.6V14H53.2Z" fill="#0a84e6"/><path d="M53.2 5.6L56.8 4.2H61.6L64.2 6L56.6 7.6Z" fill="#36b2ff"/><path d="M53.6 5.8L56.6 7.6V13" fill="none" stroke="#d8f0ff" stroke-width="0.6"/><path d="M58 9.4L63.1 8.4V9.6L58 10.3Z" fill="#e4f4ff"/><path d="M54 19.5C50.6 19.5 50.4 15.4 53.4 15C53.9 12.8 57 12.3 58.2 14C59.6 11.7 63.6 12.2 64 15C67.6 14.8 67.6 19.5 64.4 19.5Z" fill="url(#cl)" stroke="#4a6aa6" stroke-width="1"/><path d="M53.4 19.7H65" stroke="#3a5690" stroke-width="0.9"/></g>
<defs><linearGradient id="sg" x1="0" y1="4" x2="0" y2="20" gradientUnits="userSpaceOnUse"><stop offset="0" stop-color="#9cc89c" stop-opacity=".25"/><stop offset="1" stop-color="#2fa02f" stop-opacity=".85"/></linearGradient></defs>
<g shape-rendering="auto" fill="none"><circle cx="86.8" cy="11.8" r="7.5" fill="#f1f5fa"/><path d="M87.4 11.8V19.4A7.6 7.6 0 0 0 87.4 4.2Z" fill="url(#sg)"/><circle cx="86.8" cy="11.8" r="7.5" stroke="#3f6fd2" stroke-width="1" opacity=".6"/><circle cx="86.8" cy="11.8" r="4.9" stroke="#5c86d6" stroke-width="1.1" opacity=".6"/><circle cx="86.8" cy="11.7" r="1.9" fill="#2354cc" stroke="none"/><path d="M87.5 12V19.5" stroke="#16a016" stroke-width="1.4"/></g>
<defs><linearGradient id="fc" x1="107" y1="11" x2="116" y2="20" gradientUnits="userSpaceOnUse"><stop offset="0" stop-color="#f2c81e"/><stop offset="0.6" stop-color="#fbee7a"/><stop offset="1" stop-color="#e8b414"/></linearGradient></defs>
<g shape-rendering="auto"><path d="M106.4 10.4L121.4 10L116.4 18.4L113.6 19.8Z" fill="url(#fc)" stroke="#c89a14" stroke-width="0.8"/><path d="M106.2 8.7C106.4 6.3 109 6.1 110.6 7.2C111 3 117 3 117.5 7C119 5.3 122.1 5.9 121.8 8.1C121.4 10.4 116.4 11.2 113.6 11.2C110 11.2 106 10.7 106.2 8.7Z" fill="#56b0e2" stroke="#1f7eae" stroke-width="0.9"/><path d="M111.4 7.6C111.8 4.6 116.4 4.6 116.8 7.4C115 8.6 113 8.6 111.4 7.6Z" fill="#8fd0f4" opacity=".9"/><circle cx="118.4" cy="15.7" r="4.3" fill="#e0260e" stroke="#b41206" stroke-width="0.8"/><rect x="117" y="14.2" width="3" height="3" fill="#fff"/></g>
<g shape-rendering="auto"><circle cx="1587.6" cy="9.5" r="4.1" fill="#f4f7ff" stroke="#2c66d4" stroke-width="1.4"/><path d="M1584.3 12.6L1580.2 16.7" stroke="#1c55c8" stroke-width="2.6" stroke-linecap="round"/></g>
<g shape-rendering="auto"><path d="M1621 16.5L1623 13.8H1619Z" fill="#777"/><ellipse cx="1620" cy="8.9" rx="6.4" ry="4.6" fill="#f6f6f8" stroke="#8c8c8c" stroke-width="1.15"/><path d="M1608.3 18.8L1609 15.8H1612Z" fill="#777"/><ellipse cx="1611" cy="13.2" rx="5" ry="3.9" fill="#f2f2f6" stroke="#8c8c8c" stroke-width="1.15"/></g></svg>
</body></html>
